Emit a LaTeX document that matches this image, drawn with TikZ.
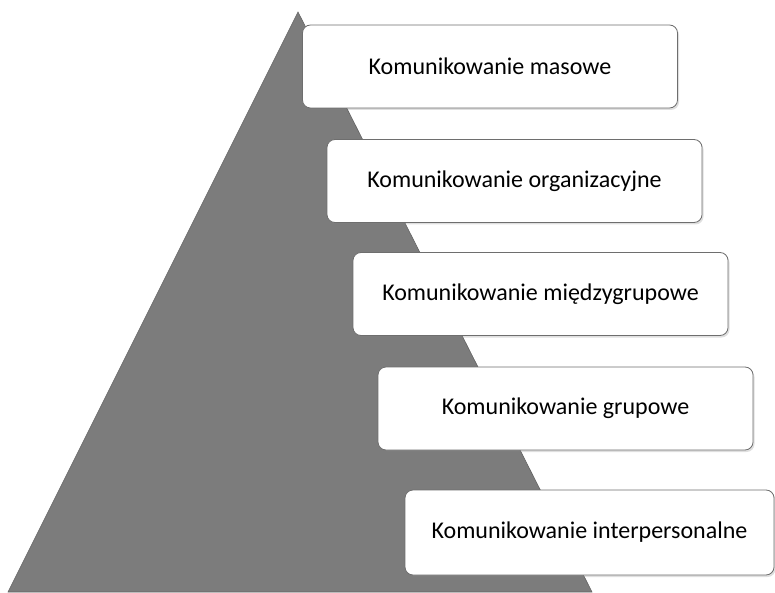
\documentclass[tikz,border=0pt]{standalone}
\usepackage{fontspec}
\setmainfont{Carlito}
\usetikzlibrary{shadows}

\definecolor{pyrgray}{RGB}{124,124,124}
\definecolor{boxline}{RGB}{110,110,110}

\tikzset{
  tier/.style={draw=boxline, fill=white, rounded corners=8pt, line width=0.8pt,
    minimum width=375pt, minimum height=83pt, inner sep=0pt,
    font=\fontsize{24}{28}\selectfont,
    drop shadow={opacity=0.25, shadow xshift=1.5pt, shadow yshift=-2pt}}
}

\begin{document}
\begin{tikzpicture}[x=1pt, y=1pt]
        \useasboundingbox (0,0) rectangle (775,592);

        % pyramid
        \coordinate (apex) at (298,580);
        \coordinate (baseL) at (8,0);
        \coordinate (baseR) at (592,0);
        \fill[pyrgray, draw=pyrgray!80!black, line width=0.6pt] (apex) -- (baseR) -- (baseL) -- cycle;

        % levels, top to bottom
        \node[tier] (masowe) at (490,525.5) {Komunikowanie masowe};
        \node[tier] (organiz) at (514.5,411) {Komunikowanie organizacyjne};
        \node[tier] (miedzy) at (540.5,298) {Komunikowanie międzygrupowe};
        \node[tier] (grupowe) at (565.5,183.5) {Komunikowanie grupowe};
        \node[tier, minimum width=369pt, minimum height=85pt] (interp) at (589.5,59.5) {Komunikowanie interpersonalne};

    \end{tikzpicture}
\end{document}
